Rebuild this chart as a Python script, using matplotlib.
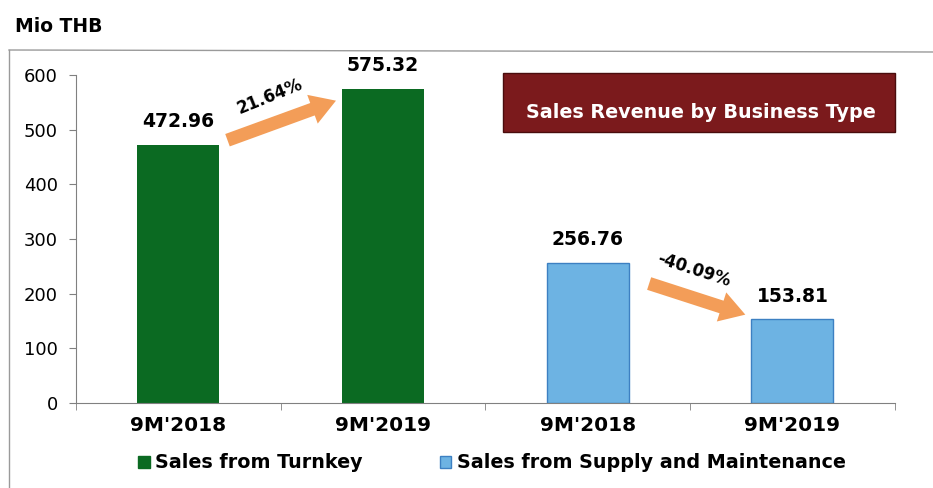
import matplotlib
matplotlib.use("Agg")
import matplotlib.pyplot as plt
from matplotlib.patches import Rectangle, Patch
from matplotlib.lines import Line2D

# data
periods = ["9M'2018", "9M'2019", "9M'2018", "9M'2019"]
turnkey = [472.96, 575.32]
supply = [256.76, 153.81]
changes = ["21.64%", "-40.09%"]
series_names = ["Sales from Turnkey", "Sales from Supply and Maintenance"]
title = "Sales Revenue by Business Type"

green = "#0b6a22"
blue = "#6db3e3"
blue_edge = "#3d80c2"
orange = "#f0852e"

fig = plt.figure(figsize=(9.33, 4.88), dpi=100)
ax = fig.add_axes([0.0815, 0.174, 0.8775, 0.672])

x_t = [0, 1]
x_s = [2, 3]
b1 = ax.bar(x_t, turnkey, width=0.4, color=green, zorder=2)
b2 = ax.bar(x_s, supply, width=0.4, color=blue, edgecolor=blue_edge, linewidth=1, zorder=2)

for xs, vals in ((x_t, turnkey), (x_s, supply)):
    for xi, v in zip(xs, vals):
        ax.text(xi, v + 42, f"{v:.2f}", ha="center", va="center",
                fontsize=13.5, fontweight="bold", color="black")

ax.set_xlim(-0.5, 3.5)
ax.set_ylim(0, 600)
ax.set_yticks(range(0, 601, 100))
ax.set_xticks(range(4))
ax.set_xticklabels(periods, fontsize=14.5, fontweight="bold")
ax.set_xticks([-0.5, 0.5, 1.5, 2.5, 3.5], minor=True)
ax.tick_params(axis="x", which="major", length=0, pad=9)
ax.tick_params(axis="x", which="minor", length=5, color="#808080", direction="out")
ax.tick_params(axis="y", labelsize=13, length=5, color="#808080", pad=8)
for s in ("top", "right"):
    ax.spines[s].set_visible(False)
for s in ("left", "bottom"):
    ax.spines[s].set_color("#808080")

# growth arrows
def growth_arrow(x0, v0, x1, v1, label, tx, ty, rot):
    ax.annotate("", xy=(x1, v1), xytext=(x0, v0),
                arrowprops=dict(arrowstyle="simple,head_width=2.2,head_length=1.8,tail_width=0.95",
                                color=orange, alpha=0.8, lw=0, shrinkA=0, shrinkB=0), zorder=3)
    ax.text(tx, ty, label, rotation=rot, ha="center", va="center",
            fontsize=12, fontweight="bold", rotation_mode="anchor", zorder=4)

growth_arrow(0.24, turnkey[0] + 8, 0.77, turnkey[1] - 22, changes[0], 0.445, 562, 22)
growth_arrow(2.3, supply[0] - 38, 2.77, supply[1] + 8, changes[1], 2.52, 243, -18)

# title box
fig.patches.append(Rectangle((503 / 933, 1 - 132 / 488), 392 / 933, 59 / 488,
                             transform=fig.transFigure, facecolor="#7b1a1c",
                             edgecolor="#4a0d0d", lw=1))
fig.text(701 / 933, 1 - 112 / 488, title, ha="center", va="center",
         color="white", fontsize=13.8, fontweight="bold")

# outer frame
fig.add_artist(Line2D([9 / 933, 9 / 933], [1 - 50 / 488, 0.0], transform=fig.transFigure,
                      color="#9a9a9a", lw=1))
fig.add_artist(Line2D([9 / 933, 1.0], [1 - 50 / 488, 1 - 52 / 488], transform=fig.transFigure,
                      color="#9a9a9a", lw=1))

fig.text(15 / 933, 1 - 26 / 488, "Mio THB", fontsize=13.5, fontweight="bold", va="center")

handles = [Patch(facecolor=green, edgecolor=green),
           Patch(facecolor=blue, edgecolor=blue_edge)]
fig.legend(handles, series_names, loc="center", bbox_to_anchor=(492 / 933, 1 - 463 / 488),
           ncol=2, frameon=False, handlelength=0.6, handleheight=0.6, handletextpad=0.3,
           columnspacing=4.0, prop=dict(size=13.8, weight="bold"))

fig.savefig("out.png", dpi=100)
